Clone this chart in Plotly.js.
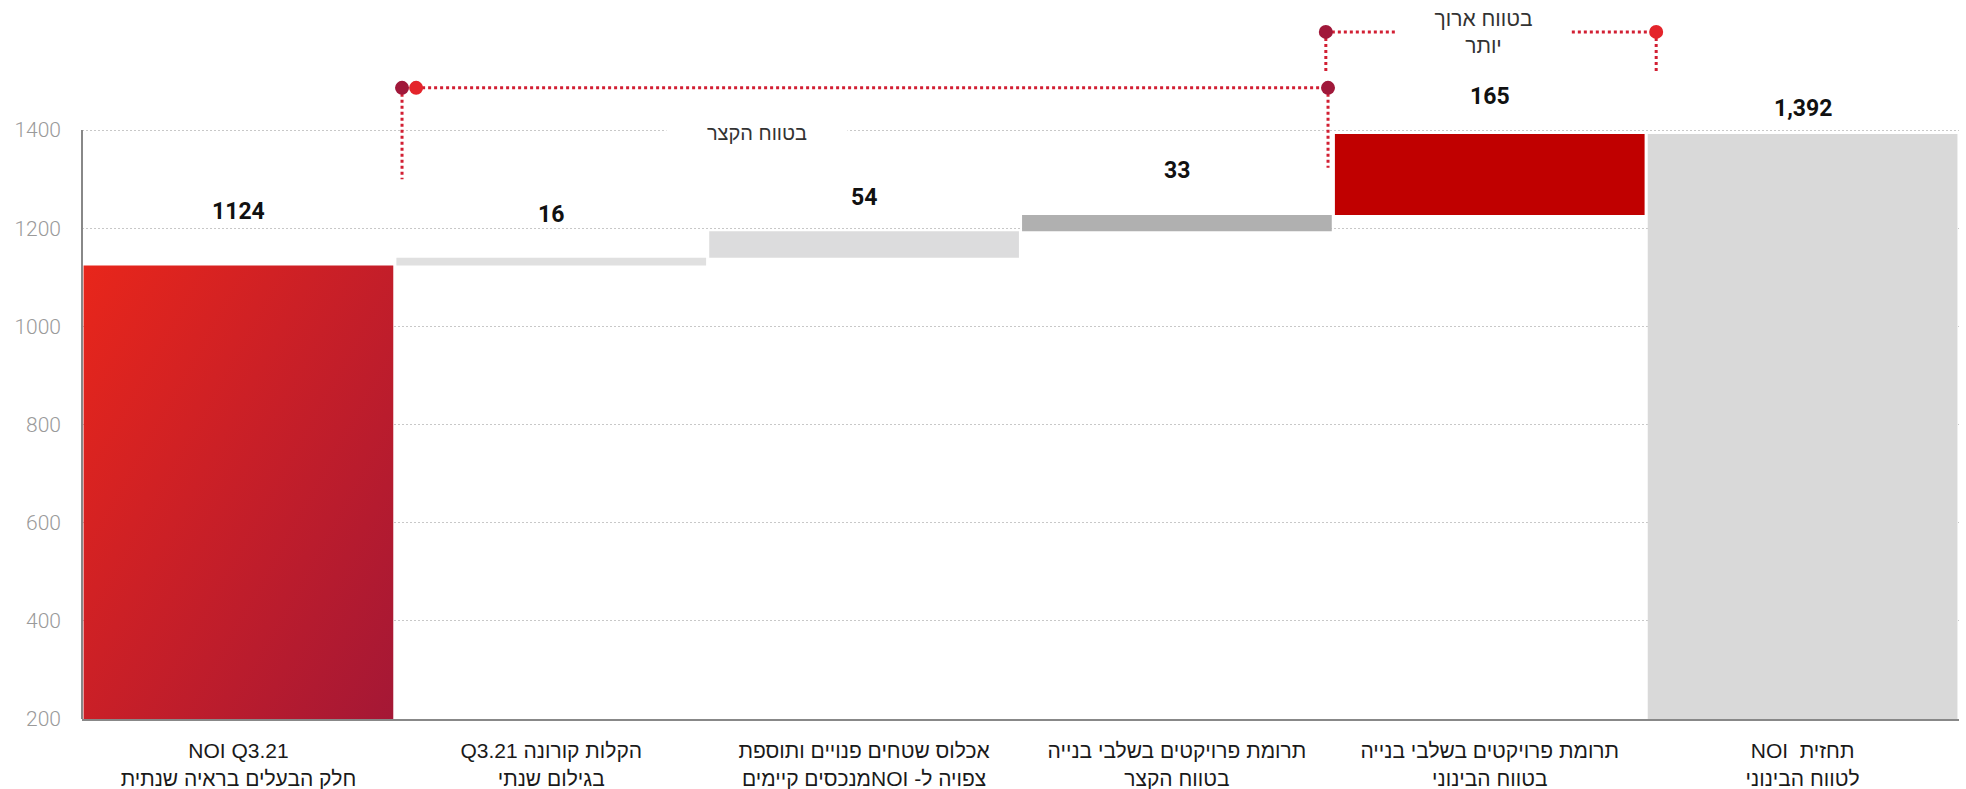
<!DOCTYPE html>
<html>
<head>
<meta charset="utf-8">
<script src="https://cdn.plot.ly/plotly-3.0.1.min.js"></script>
<style>
  html, body { margin: 0; padding: 0; background: #ffffff; }
  #chart { width: 1966px; height: 789px; }
  .xtick text { direction: rtl; unicode-bidi: embed; }
</style>
</head>
<body>
<div id="chart"></div>
<script>
// ---------- data ----------
const categories = [
  "NOI Q3.21<br>חלק הבעלים בראיה שנתית",
  "הקלות קורונה Q3.21<br>בגילום שנתי",
  "אכלוס שטחים פנויים ותוספת<br>צפויה ל- NOIמנכסים קיימים",
  "תרומת פרויקטים בשלבי בנייה<br>בטווח הקצר",
  "תרומת פרויקטים בשלבי בנייה<br>בטווח הבינוני",
  "תחזית  NOI<br>לטווח הבינוני"
];
const values = [1124, 16, 54, 33, 165, 1392];
const measures = ["absolute", "relative", "relative", "relative", "relative", "total"];
const valueLabels = ["1124", "16", "54", "33", "165", "1,392"];
const yTickVals = [200, 400, 600, 800, 1000, 1200, 1400];
const shortTermLabel = "בטווח הקצר";
const longTermLabel = "בטווח ארוך<br>יותר";

// ---------- styles ----------
const barColors = ["#d41f2c", "#e0e0e0", "#dcdcdd", "#b0b0b0", "#c00000", "#d9d9d9"];
const labelShift = [54, 43, 34, 44, 37, 25];
const dotRed = "#d21f33";
const dotDark = "#a0183a";
const dotBright = "#e4242b";

// ---------- build waterfall geometry from data ----------
const bases = [], heights = [], tops = [];
let running = 0;
values.forEach((v, i) => {
  if (measures[i] === "absolute") { bases.push(0); heights.push(v); running = v; }
  else if (measures[i] === "relative") { bases.push(running); heights.push(v); running += v; }
  else { bases.push(0); heights.push(v); }
  tops.push(bases[i] + heights[i]);
});

const trace = {
  type: "bar",
  x: categories,
  y: heights,
  base: bases,
  marker: { color: barColors, line: { width: 0 } },
  hoverinfo: "skip",
  showlegend: false
};

const annotations = tops.map((t, i) => ({
  x: i, y: t, xref: "x", yref: "y",
  text: valueLabels[i], showarrow: false,
  yanchor: "middle", yshift: labelShift[i],
  font: { family: "Roboto, Arial, sans-serif", size: 23, color: "#111111", weight: 700 }
}));

annotations.push({
  x: 1.658, y: 1394, xref: "x", yref: "y",
  text: shortTermLabel, showarrow: false,
  bgcolor: "#ffffff", width: 172, borderpad: 4,
  font: { family: "Liberation Sans, Arial, sans-serif", size: 20, color: "#333333" }
});
annotations.push({
  x: 3.979, y: 1599, xref: "x", yref: "y",
  text: longTermLabel, showarrow: false,
  bgcolor: "#ffffff", width: 165, borderpad: 4,
  font: { family: "Liberation Sans, Arial, sans-serif", size: 21, color: "#333333" }
});

function dline(x0, y0, x1, y1, color) {
  return { type: "line", xref: "x", yref: "y", x0, y0, x1, y1,
           line: { color: color || dotRed, width: 3, dash: "dot" }, layer: "above" };
}
function dot(x, y, color) {
  return { type: "circle", xref: "x", yref: "y", xsizemode: "pixel", ysizemode: "pixel",
           xanchor: x, yanchor: y, x0: -7, x1: 7, y0: -7, y1: 7,
           fillcolor: color, line: { width: 0 }, layer: "above" };
}

const shapes = [
  // left axis line
  { type: "line", xref: "paper", yref: "y", x0: 0, x1: 0, y0: 200, y1: 1400,
    line: { color: "#888888", width: 2 }, layer: "above" },
  // short-term bracket
  dline(0.568, 1486, 3.483, 1486),
  dline(0.523, 1486, 0.523, 1300),
  dline(3.483, 1486, 3.483, 1323),
  // long-term bracket
  dline(3.476, 1600, 4.532, 1600),
  dline(3.476, 1600, 3.476, 1516),
  dline(4.532, 1600, 4.532, 1516),
  dot(0.523, 1486, dotDark),
  dot(0.568, 1486, dotBright),
  dot(3.483, 1486, dotDark),
  dot(3.476, 1600, dotDark),
  dot(4.532, 1600, dotBright)
];

const layout = {
  width: 1966, height: 789,
  margin: { l: 82, r: 7, t: 0, b: 70, pad: 0 },
  paper_bgcolor: "#ffffff", plot_bgcolor: "#ffffff",
  bargap: 0.01,
  showlegend: false,
  xaxis: {
    type: "category", range: [-0.5, 5.5], fixedrange: true,
    showgrid: false, zeroline: false, ticks: "",
    showline: true, linecolor: "#888888", linewidth: 2,
    tickangle: 0, ticklabelstandoff: 12,
    tickfont: { family: "Liberation Sans, Arial, sans-serif", size: 21, color: "#1a1a1a" }
  },
  yaxis: {
    range: [200, 1665], fixedrange: true,
    tickvals: yTickVals, ticks: "",
    showline: false, zeroline: false,
    showgrid: true, gridcolor: "#c8c8c8", gridwidth: 1, griddash: "2px,2px",
    ticklabelstandoff: 20,
    tickfont: { family: "Roboto, Arial, sans-serif", size: 21, color: "#9a9a9a", weight: 300 }
  },
  annotations: annotations,
  shapes: shapes
};

Plotly.newPlot("chart", [trace], layout, { displayModeBar: false, staticPlot: true }).then(gd => {
  const svg = gd.querySelector("svg.main-svg");
  let defs = svg.querySelector("defs");
  const ns = "http://www.w3.org/2000/svg";
  const grad = document.createElementNS(ns, "linearGradient");
  grad.setAttribute("id", "firstBarGrad");
  grad.setAttribute("x1", "0"); grad.setAttribute("y1", "0");
  grad.setAttribute("x2", "1"); grad.setAttribute("y2", "1");
  [["0", "#e8261b"], ["1", "#9e1638"]].forEach(([o, c]) => {
    const s = document.createElementNS(ns, "stop");
    s.setAttribute("offset", o); s.setAttribute("stop-color", c);
    grad.appendChild(s);
  });
  defs.appendChild(grad);
  const firstBar = gd.querySelector(".barlayer .point path");
  if (firstBar) firstBar.style.fill = "url(#firstBarGrad)";
});
</script>
</body>
</html>
